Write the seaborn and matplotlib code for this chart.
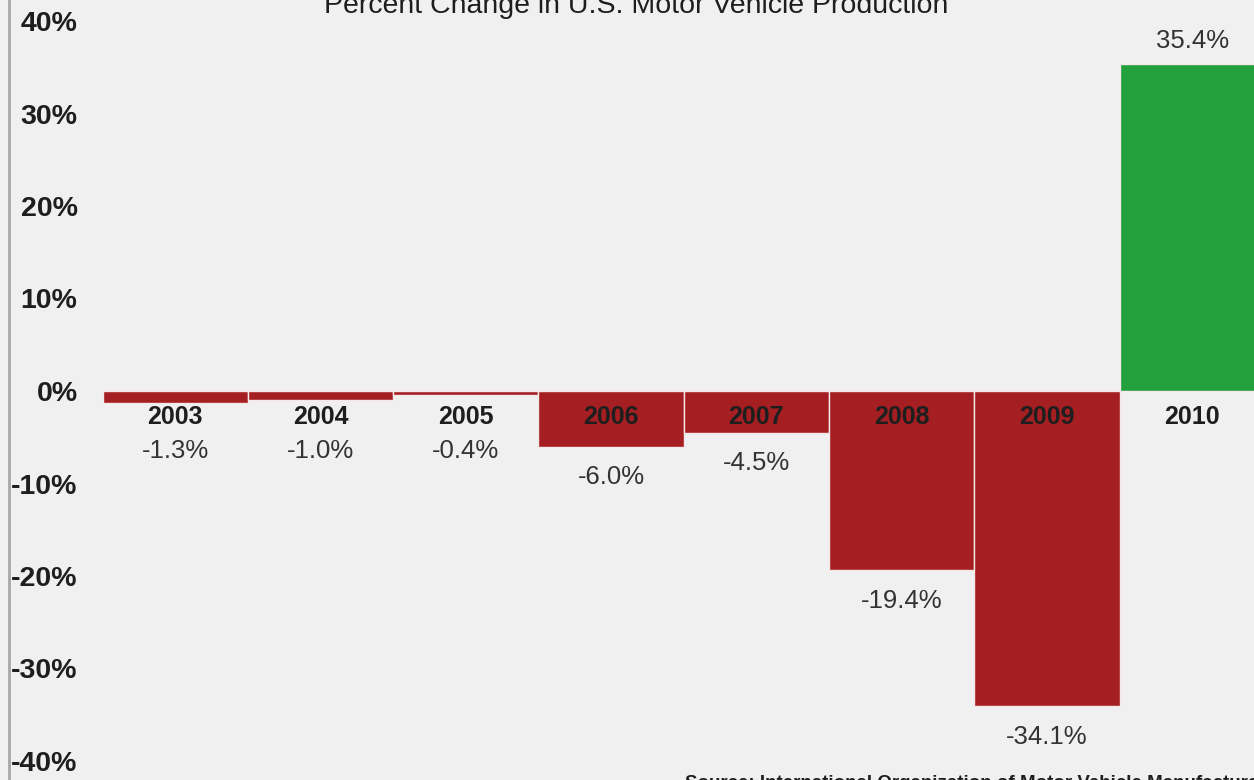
import matplotlib
matplotlib.use("Agg")
import matplotlib.pyplot as plt
import seaborn as sns
import pandas as pd
from matplotlib.lines import Line2D

# Annual percent change in U.S. motor vehicle production
years = ["2003", "2004", "2005", "2006", "2007", "2008", "2009", "2010"]
pct_change = [-1.3, -1.0, -0.4, -6.0, -4.5, -19.4, -34.1, 35.4]
y_ticks = [40, 30, 20, 10, 0, -10, -20, -30, -40]

title = "Percent Change in U.S. Motor Vehicle Production"
source = "Source: International Organization of Motor Vehicle Manufacturers"

RED = "#a51e22"
GREEN = "#23a03b"
BG = "#f0f0f0"
TXT = "#1e1e1e"

sns.set_theme(style="white")
plt.rcParams["font.family"] = ["Liberation Sans", "DejaVu Sans"]

df = pd.DataFrame({"year": years, "change": pct_change})
df["sign"] = ["up" if v >= 0 else "down" for v in pct_change]

W, H = 1254, 780
fig = plt.figure(figsize=(W / 100, H / 100), dpi=100, facecolor=BG)

# axes placed in pixel terms: zero line at y=391, 9.25 px per percentage point
ymin, ymax = -42, 42
zero_px, scale = 391, 9.25
top_px = zero_px - scale * ymax
bot_px = zero_px - scale * ymin
xmin, xmax = -0.5, 7.5
left_px, slot_px = 102.5, 145.3
right_px = left_px + slot_px * (xmax - xmin)
ax = fig.add_axes([left_px / W, (H - bot_px) / H,
                   (right_px - left_px) / W, (bot_px - top_px) / H])
ax.set_facecolor(BG)

sns.barplot(data=df, x="year", y="change", hue="sign",
            palette={"up": GREEN, "down": RED}, order=years,
            width=1.0, dodge=False, legend=False, ax=ax, saturation=1,
            edgecolor="#f4e8e8", linewidth=1.0)

ax.set_xlim(xmin, xmax)
ax.set_ylim(ymin, ymax)
ax.set_xlabel("")
ax.set_ylabel("")
ax.set_xticks([])
ax.set_yticks(y_ticks)
ax.set_yticklabels([f"{t}%" for t in y_ticks], fontsize=20.5, fontweight="bold", color=TXT)
ax.tick_params(axis="y", length=0, pad=18)
for s in ax.spines.values():
    s.set_visible(False)

# year labels just under the zero line, value labels beyond each bar end
for i, (yr, v) in enumerate(zip(years, pct_change)):
    ax.text(i, -2.8, yr, ha="center", va="center", fontsize=18,
            fontweight="bold", color=TXT)
    if v < 0:
        ly = min(v, -3.2) - 3.3
    else:
        ly = v + 2.4
    ax.text(i, ly, f"{v:.1f}%", ha="center", va="center", fontsize=18.5, color="#333333")

fig.text(636 / W, 1 - 6 / H, title, ha="center", va="center", fontsize=20.5, color=TXT)
fig.text(685 / W, 1 - 784 / H, source, ha="left", va="center", fontsize=13.5,
         fontweight="bold", color=TXT)

# frame edge on the left side
fig.add_artist(Line2D([8.5 / W, 8.5 / W], [0, 1], transform=fig.transFigure,
                      color="#a8a8a8", linewidth=2))

fig.savefig("out.png", dpi=100, facecolor=BG)
